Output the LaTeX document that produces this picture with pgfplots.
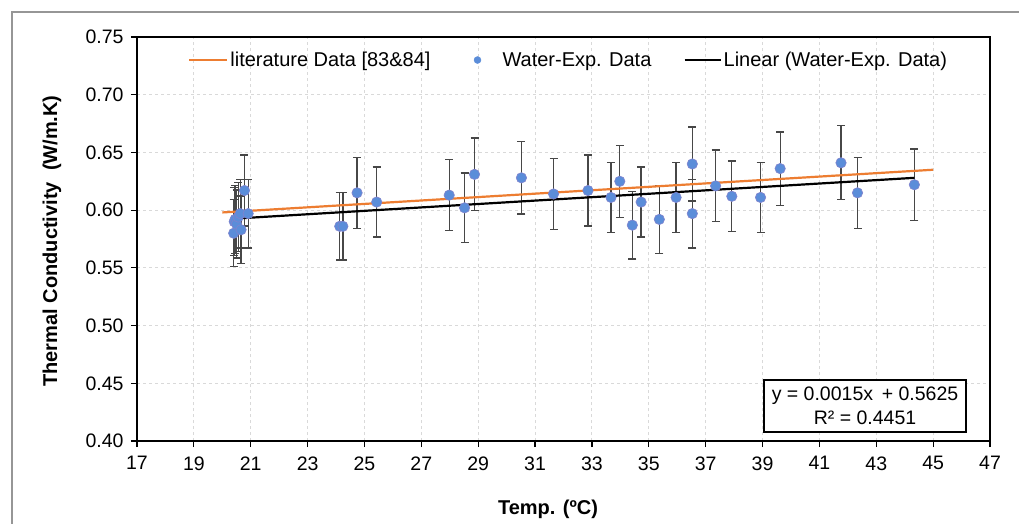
\documentclass[border=0pt]{standalone}
\usepackage{fontspec}
\setmainfont{Liberation Sans}
\usepackage{pgfplots}
\usepackage{pgfplotstable}
\pgfplotsset{compat=1.18}
\definecolor{expblue}{RGB}{91,141,217}
\definecolor{expedge}{RGB}{128,130,205}
\definecolor{litorange}{RGB}{237,125,49}
\definecolor{framegray}{RGB}{150,150,150}

\pgfplotsset{
  lineleg/.style={legend image code/.code={\draw[##1] (0pt,0pt) -- (#1,0pt);}},
  markleg/.style={legend image code/.code={\path[draw=none,fill=none] (0pt,0pt) -- (38pt,0pt); \path[##1] plot coordinates {(15pt,0pt)};}},
}

\pgfplotstableread{
x y
20.40 0.580
20.42 0.590
20.45 0.592
20.50 0.588
20.56 0.594
20.63 0.597
20.66 0.583
20.78 0.617
20.91 0.597
24.13 0.586
24.24 0.586
24.74 0.615
25.43 0.607
27.98 0.613
28.52 0.602
28.87 0.631
30.52 0.628
31.65 0.614
32.86 0.617
33.67 0.611
33.98 0.625
34.42 0.587
34.73 0.607
35.37 0.592
35.96 0.611
36.53 0.640
36.53 0.597
37.35 0.621
37.92 0.612
38.93 0.611
39.62 0.636
41.76 0.641
42.34 0.615
44.34 0.622
}\expdata

\pgfplotstableread{
x y
20.0 0.598
25.0 0.6054
30.0 0.6128
35.0 0.6202
40.0 0.6276
45.0 0.6350
}\litdata

\pgfplotstableread{
x y
20.40 0.5926
44.34 0.6280
}\trenddata

\begin{document}
\begin{tikzpicture}[x=1pt,y=1pt]
\useasboundingbox[fill=white] (0,0) rectangle (1019,523);
\draw[framegray, line width=2pt] (12,-20) -- (12,511) -- (1040,511);
\begin{axis}[
  at={(137pt,82pt)}, anchor=south west,
  scale only axis, width=853pt, height=404pt,
  xmin=17, xmax=47, ymin=0.40, ymax=0.75,
  xtick={17,19,21,23,25,27,29,31,33,35,37,39,41,43,45,47},
  ytick={0.40,0.45,0.50,0.55,0.60,0.65,0.70,0.75},
  yticklabel style={xshift=-4pt, /pgf/number format/.cd, fixed, fixed zerofill, precision=2},
  xticklabel style={yshift=-6pt},
  /pgf/number format/assume math mode=true,
  ticklabel style={font=\fontsize{19.5}{22}\selectfont},
  axis line style={line width=1.6pt, black},
  tick style={black, line width=1.2pt},
  major tick length=6pt,
  tick align=outside,
  tick pos=left,
  grid=major,
  major grid style={dash pattern=on 3pt off 3pt, gray!30, line width=0.9pt},
  legend style={at={(rel axis cs:0.506,0.943)}, anchor=center, draw=none, fill=none,
    font=\fontsize{20}{22}\selectfont,
    /tikz/every even column/.append style={column sep=30pt},
    nodes={inner xsep=2pt, inner ysep=1pt}},
  legend columns=3,
  legend cell align=left,
]
\addplot[forget plot, draw=none, mark=none,
  error bars/.cd, y dir=both, y fixed relative=0.05,
  error bar style={draw=black!72, line width=1.3pt},
  error mark options={rotate=90, mark size=4pt, draw=black!72, line width=1.3pt}]
  table {\expdata};
\addplot[forget plot, only marks, mark=*, mark size=5.2pt,
  mark options={fill=expblue, draw=expedge, line width=0.6pt}]
  table {\expdata};
\addplot[forget plot, litorange, line width=2.2pt, mark=none] table {\litdata};
\addplot[forget plot, black, line width=2.2pt, mark=none] table {\trenddata};

\addlegendimage{litorange, line width=2.2pt, lineleg=38pt}
\addlegendentry{literature Data [83\&84]}
\addlegendimage{only marks, mark=*, mark size=3.5pt, mark options={fill=expblue, draw=expblue}, markleg}
\addlegendentry{Water-Exp. Data}
\addlegendimage{black, line width=2.2pt, lineleg=36pt}
\addlegendentry{Linear (Water-Exp. Data)}
\end{axis}
\node[draw=black, line width=1.5pt, fill=white, minimum width=202pt, minimum height=52pt,
  align=center, inner sep=0pt, font=\fontsize{19.5}{24}\selectfont] at (865,117)
  {y = 0.0015x \,+ 0.5625\\R² = 0.4451};
\node[font=\fontsize{20}{22}\selectfont\bfseries] at (548,14) {Temp. (ºC)};
\node[font=\fontsize{20}{22}\selectfont\bfseries, rotate=90] at (52,282) {Thermal Conductivity\ \ (W/m.K)};
\end{tikzpicture}
\end{document}
